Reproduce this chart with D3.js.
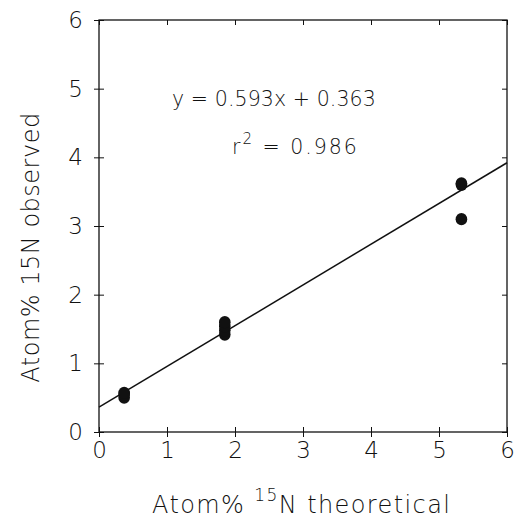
<!DOCTYPE html>
<html><head><meta charset="utf-8">
<script src="https://cdn.jsdelivr.net/npm/d3@7"></script>
<style>body{margin:0;background:#fff}svg{display:block}text{font-family:"DejaVu Sans",sans-serif;font-weight:200;fill:#111}</style>
</head><body>
<script>
const xTicks = [0,1,2,3,4,5,6];
const yTicks = [0,1,2,3,4,5,6];
const theoretical = [0.37,0.37,0.37,1.85,1.85,1.85,1.85,5.33,5.33,5.33];
const observed    = [0.50,0.54,0.57,1.42,1.48,1.54,1.60,3.60,3.62,3.10];
const slope = 0.593, intercept = 0.363;
const eqText = "y = 0.593x + 0.363";
const r2Text = "0.986";

const W=517,H=520;
const svg=d3.select("body").append("svg").attr("width",W).attr("height",H);
const x=d3.scaleLinear().domain([0,6]).range([99,507]);
const y=d3.scaleLinear().domain([0,6]).range([432,20]);

svg.append("rect").attr("x",99).attr("y",20).attr("width",408).attr("height",412)
  .attr("fill","none").attr("stroke","#111").attr("stroke-width",1.3);

const fs=23;
const styleAxis=g=>{g.select(".domain").remove();
  g.selectAll("text").attr("font-size",fs).attr("font-family","DejaVu Sans").attr("font-weight",200).attr("fill","#111");
  g.selectAll("line").attr("stroke","#111");};
const xb=svg.append("g").attr("transform","translate(0,432)")
  .call(d3.axisBottom(x).tickValues(xTicks).tickSize(5).tickPadding(5).tickFormat(d3.format("d"))).call(styleAxis);
xb.selectAll("line").attr("y1",-5);
const yl=svg.append("g").attr("transform","translate(99,0)")
  .call(d3.axisLeft(y).tickValues(yTicks).tickSize(5).tickPadding(11).tickFormat(d3.format("d"))).call(styleAxis);
yl.selectAll("line").attr("x1",5);
svg.append("g").attr("transform","translate(0,20)")
  .call(d3.axisTop(x).tickValues(xTicks).tickSize(0).tickFormat(""))
  .call(g=>{g.select(".domain").remove();g.selectAll("line").attr("y1",0).attr("y2",5).attr("stroke","#111");});
svg.append("g").attr("transform","translate(507,0)")
  .call(d3.axisRight(y).tickValues(yTicks).tickSize(0).tickFormat(""))
  .call(g=>{g.select(".domain").remove();g.selectAll("line").attr("x1",-5).attr("x2",0).attr("stroke","#111");});

svg.append("line").attr("x1",x(0)).attr("y1",y(intercept))
  .attr("x2",x(6)).attr("y2",y(slope*6+intercept))
  .attr("stroke","#111").attr("stroke-width",1.5);

svg.selectAll("ellipse.pt").data(theoretical.map((t,i)=>[t,observed[i]])).enter()
  .append("ellipse").attr("class","pt")
  .attr("cx",d=>x(d[0])).attr("cy",d=>y(d[1])).attr("rx",5.8).attr("ry",6.2).attr("fill","#111");

svg.append("text").attr("x",172).attr("y",106).attr("font-size",20.5).attr("letter-spacing",0.1).text(eqText);
const r=svg.append("text").attr("x",232).attr("y",154).attr("font-size",20.5).attr("letter-spacing",2);
r.append("tspan").text("r");
r.append("tspan").attr("dy",-10).attr("font-size",15).text("2");
r.append("tspan").attr("dy",10).text(" = "+r2Text);

const xt=svg.append("text").attr("x",152).attr("y",513).attr("font-size",24).attr("letter-spacing",1.4);
xt.append("tspan").text("Atom% ");
xt.append("tspan").attr("dy",-12).attr("font-size",17).text("15");
xt.append("tspan").attr("dy",12).text("N theoretical");
svg.append("text").attr("transform","translate(39,247.5) rotate(-90)").attr("text-anchor","middle")
  .attr("font-size",24).attr("letter-spacing",0.5).text("Atom% 15N observed");
</script>
</body></html>
